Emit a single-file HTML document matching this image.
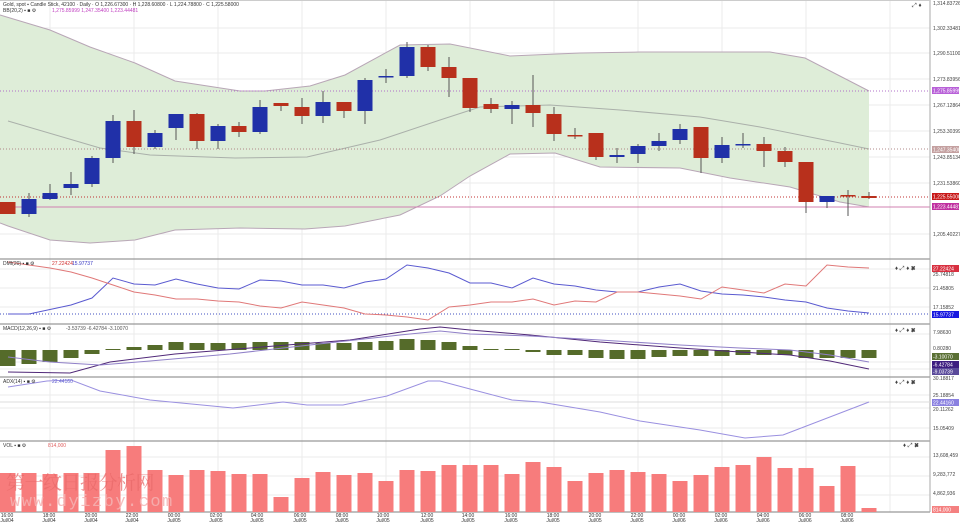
<!DOCTYPE html>
<html><head><meta charset="utf-8"><style>
html,body{margin:0;padding:0;background:#fff;width:960px;height:522px;overflow:hidden}
svg{display:block;font-family:"Liberation Sans","Noto Sans CJK SC",sans-serif}
</style></head><body>
<svg width="960" height="522" viewBox="0 0 960 522" xmlns="http://www.w3.org/2000/svg">
<!-- grid -->
<g stroke="#ebebeb" stroke-width="1">
<line x1="50" y1="0" x2="50" y2="512"/><line x1="134" y1="0" x2="134" y2="512"/><line x1="218" y1="0" x2="218" y2="512"/><line x1="302" y1="0" x2="302" y2="512"/><line x1="386" y1="0" x2="386" y2="512"/><line x1="470" y1="0" x2="470" y2="512"/><line x1="554" y1="0" x2="554" y2="512"/><line x1="638" y1="0" x2="638" y2="512"/><line x1="722" y1="0" x2="722" y2="512"/><line x1="806" y1="0" x2="806" y2="512"/><line x1="890" y1="0" x2="890" y2="512"/>
<line x1="0" y1="28" x2="930" y2="28"/><line x1="0" y1="53" x2="930" y2="53"/><line x1="0" y1="79" x2="930" y2="79"/><line x1="0" y1="105" x2="930" y2="105"/><line x1="0" y1="131" x2="930" y2="131"/><line x1="0" y1="157" x2="930" y2="157"/><line x1="0" y1="183" x2="930" y2="183"/><line x1="0" y1="234" x2="930" y2="234"/>
<line x1="0" y1="269" x2="930" y2="269"/><line x1="0" y1="288" x2="930" y2="288"/><line x1="0" y1="307" x2="930" y2="307"/>
<line x1="0" y1="334" x2="930" y2="334"/><line x1="0" y1="362" x2="930" y2="362"/><line x1="0" y1="369" x2="930" y2="369"/>
<line x1="0" y1="395" x2="930" y2="395"/><line x1="0" y1="408" x2="930" y2="408"/><line x1="0" y1="428" x2="930" y2="428"/>
<line x1="0" y1="457" x2="930" y2="457"/><line x1="0" y1="476" x2="930" y2="476"/><line x1="0" y1="495" x2="930" y2="495"/>
</g>
<!-- bollinger -->
<polygon fill="#deedd8" points="0,15 50,30 90,47 135,63 175,81 240,91 265,91 310,86 345,75 400,45 450,44 510,56 580,53 640,52 700,52 770,52 805,58 869,91 869,207 840,202 790,187 730,178 680,168 600,167 555,153 510,154 470,176 440,196 400,215 345,226 305,229 240,228 175,230 135,240 90,243 50,240 8,226 0,223"/>
<polyline fill="none" stroke="#b8a6b6" stroke-width="1" points="0,15 50,30 90,47 135,63 175,81 240,91 265,91 310,86 345,75 400,45 450,44 510,56 580,53 640,52 700,52 770,52 805,58 869,91"/>
<polyline fill="none" stroke="#b8a6b6" stroke-width="1" points="0,223 8,226 50,240 90,243 135,240 175,230 240,228 305,229 345,226 400,215 440,196 470,176 510,154 555,153 600,167 680,168 730,178 790,187 840,202 869,207"/>
<polyline fill="none" stroke="#aab0aa" stroke-width="1" points="8,121 100,148 150,155 235,158 307,157 380,140 440,120 480,107 550,105 620,110 700,117 760,127 840,143 869,149"/>
<line x1="0" y1="91" x2="930" y2="91" stroke="#b070c8" stroke-dasharray="1,2"/>
<line x1="0" y1="149" x2="930" y2="149" stroke="#b08888" stroke-dasharray="1,2"/>
<line x1="0" y1="197" x2="930" y2="197" stroke="#c03030" stroke-dasharray="1,2"/>
<line x1="0" y1="207" x2="930" y2="207" stroke="#d080b0" stroke-width="1"/>
<!-- candles -->
<g stroke-width="1">
<g stroke="#555"><line x1="29" y1="193" x2="29" y2="217"/><line x1="50" y1="184" x2="50" y2="200"/><line x1="71" y1="172" x2="71" y2="195"/><line x1="92" y1="156" x2="92" y2="187"/><line x1="113" y1="115" x2="113" y2="163"/><line x1="134" y1="110" x2="134" y2="154"/><line x1="155" y1="130" x2="155" y2="149"/><line x1="176" y1="114" x2="176" y2="140"/><line x1="197" y1="113" x2="197" y2="149"/><line x1="218" y1="124" x2="218" y2="149"/><line x1="239" y1="122" x2="239" y2="137"/><line x1="260" y1="100" x2="260" y2="134"/><line x1="281" y1="103" x2="281" y2="111"/><line x1="302" y1="98" x2="302" y2="124"/><line x1="323" y1="91" x2="323" y2="123"/><line x1="344" y1="102" x2="344" y2="118"/><line x1="365" y1="78" x2="365" y2="124"/><line x1="386" y1="69" x2="386" y2="83"/><line x1="407" y1="42" x2="407" y2="78"/><line x1="428" y1="45" x2="428" y2="71"/><line x1="449" y1="57" x2="449" y2="97"/><line x1="470" y1="78" x2="470" y2="112"/><line x1="491" y1="98" x2="491" y2="113"/><line x1="512" y1="101" x2="512" y2="124"/><line x1="533" y1="75" x2="533" y2="127"/><line x1="554" y1="107" x2="554" y2="141"/><line x1="575" y1="128" x2="575" y2="139"/><line x1="596" y1="133" x2="596" y2="160"/><line x1="617" y1="148" x2="617" y2="163"/><line x1="638" y1="144" x2="638" y2="163"/><line x1="659" y1="133" x2="659" y2="151"/><line x1="680" y1="124" x2="680" y2="144"/><line x1="701" y1="127" x2="701" y2="173"/><line x1="722" y1="137" x2="722" y2="163"/><line x1="743" y1="133" x2="743" y2="148"/><line x1="764" y1="137" x2="764" y2="167"/><line x1="785" y1="147" x2="785" y2="167"/><line x1="806" y1="162" x2="806" y2="213"/><line x1="827" y1="196" x2="827" y2="208"/><line x1="848" y1="190" x2="848" y2="216"/><line x1="869" y1="192" x2="869" y2="199"/></g>
<g fill="#b8301c">
<rect x="0" y="202" width="15.5" height="12"/><rect x="126.5" y="121" width="15" height="26"/><rect x="189.5" y="114" width="15" height="27"/><rect x="231.5" y="126" width="15" height="6"/><rect x="273.5" y="103" width="15" height="3"/><rect x="294.5" y="107" width="15" height="9"/><rect x="336.5" y="102" width="15" height="9"/><rect x="420.5" y="47" width="15" height="20"/><rect x="441.5" y="67" width="15" height="11"/><rect x="462.5" y="78" width="15" height="30"/><rect x="483.5" y="104" width="15" height="5"/><rect x="525.5" y="105" width="15" height="8"/><rect x="546.5" y="114" width="15" height="20"/><rect x="567.5" y="135" width="15" height="1.5"/><rect x="588.5" y="133" width="15" height="24"/><rect x="693.5" y="127" width="15" height="31"/><rect x="756.5" y="144" width="15" height="7"/><rect x="777.5" y="151" width="15" height="11"/><rect x="798.5" y="162" width="15" height="40"/><rect x="840.5" y="195" width="15" height="1.5"/><rect x="861.5" y="196" width="15" height="2"/>
</g>
<g fill="#2030a8">
<rect x="21.5" y="199" width="15" height="15"/><rect x="42.5" y="193" width="15" height="6"/><rect x="63.5" y="184" width="15" height="4"/><rect x="84.5" y="158" width="15" height="26"/><rect x="105.5" y="121" width="15" height="37"/><rect x="147.5" y="133" width="15" height="14"/><rect x="168.5" y="114" width="15" height="14"/><rect x="210.5" y="126" width="15" height="15"/><rect x="252.5" y="107" width="15" height="25"/><rect x="315.5" y="102" width="15" height="14"/><rect x="357.5" y="80" width="15" height="31"/><rect x="378.5" y="76" width="15" height="1.5"/><rect x="399.5" y="47" width="15" height="29"/><rect x="504.5" y="105" width="15" height="4"/><rect x="609.5" y="155" width="15" height="2"/><rect x="630.5" y="146" width="15" height="8"/><rect x="651.5" y="141" width="15" height="5"/><rect x="672.5" y="129" width="15" height="11"/><rect x="714.5" y="145" width="15" height="13"/><rect x="735.5" y="144" width="15" height="1.5"/><rect x="819.5" y="196" width="15" height="6"/>
</g></g>
<!-- panel separators -->
<g stroke="#999" stroke-width="1.2"><line x1="0" y1="259" x2="930" y2="259"/><line x1="0" y1="324" x2="930" y2="324"/><line x1="0" y1="377" x2="930" y2="377"/><line x1="0" y1="441" x2="930" y2="441"/><line x1="0" y1="512" x2="930" y2="512"/></g>
<line x1="930" y1="0" x2="930" y2="512" stroke="#aaa"/>
<line x1="0" y1="0.5" x2="930" y2="0.5" stroke="#ccc"/>
<!-- DMI -->
<line x1="0" y1="314" x2="930" y2="314" stroke="#4050c0" stroke-dasharray="1,2"/>
<polyline fill="none" stroke="#5a5ad0" stroke-width="1" points="8,314 29,314 71,305 92,298 113,278 134,284 155,285 176,279 197,284 218,288 239,289 260,280 281,281 302,285 323,285 344,288 365,282 386,279 407,265 428,268 449,273 470,283 491,283 512,288 533,278 554,284 575,286 596,290 617,292 638,292 659,287 680,284 701,291 722,294 743,295 764,297 785,300 806,302 827,308 848,311 869,313"/>
<polyline fill="none" stroke="#e07878" stroke-width="1" points="8,262 29,265 50,268 71,272 92,278 113,285 134,292 155,295 176,299 197,299 218,301 239,302 260,306 281,308 302,302 323,305 344,308 365,314 386,315 407,317 428,320 449,307 470,305 491,302 512,302 533,299 554,305 575,301 596,302 617,292 638,292 659,294 680,296 701,299 722,287 743,290 764,293 785,284 806,286 827,265 848,267 869,268"/>
<!-- MACD -->
<g fill="#556b2a">
<rect x="0" y="350" width="15.5" height="16"/><rect x="21.5" y="350" width="15" height="14"/><rect x="42.5" y="350" width="15" height="12"/><rect x="63.5" y="350" width="15" height="8"/><rect x="84.5" y="350" width="15" height="4"/><rect x="105.5" y="349" width="15" height="1"/><rect x="126.5" y="347" width="15" height="3"/><rect x="147.5" y="345" width="15" height="5"/><rect x="168.5" y="342" width="15" height="8"/><rect x="189.5" y="343" width="15" height="7"/><rect x="210.5" y="343" width="15" height="7"/><rect x="231.5" y="343" width="15" height="7"/><rect x="252.5" y="342" width="15" height="8"/><rect x="273.5" y="342" width="15" height="8"/><rect x="294.5" y="342" width="15" height="8"/><rect x="315.5" y="343" width="15" height="7"/><rect x="336.5" y="343" width="15" height="7"/><rect x="357.5" y="342" width="15" height="8"/><rect x="378.5" y="341" width="15" height="9"/><rect x="399.5" y="339" width="15" height="11"/><rect x="420.5" y="340" width="15" height="10"/><rect x="441.5" y="342" width="15" height="8"/><rect x="462.5" y="346" width="15" height="4"/><rect x="483.5" y="349" width="15" height="1"/><rect x="504.5" y="349" width="15" height="1"/><rect x="525.5" y="350" width="15" height="2"/><rect x="546.5" y="350" width="15" height="5"/><rect x="567.5" y="350" width="15" height="5"/><rect x="588.5" y="350" width="15" height="8"/><rect x="609.5" y="350" width="15" height="9"/><rect x="630.5" y="350" width="15" height="9"/><rect x="651.5" y="350" width="15" height="7"/><rect x="672.5" y="350" width="15" height="6"/><rect x="693.5" y="350" width="15" height="6"/><rect x="714.5" y="350" width="15" height="6"/><rect x="735.5" y="350" width="15" height="5"/><rect x="756.5" y="350" width="15" height="5"/><rect x="777.5" y="350" width="15" height="5"/><rect x="798.5" y="350" width="15" height="8"/><rect x="819.5" y="350" width="15" height="8"/><rect x="840.5" y="350" width="15" height="8"/><rect x="861.5" y="350" width="15" height="8"/>
</g>
<polyline fill="none" stroke="#502878" stroke-width="1" points="8,372 70,373 110,362 175,354 250,348 350,340 420,329 440,327 470,330 530,335 600,342 680,348 740,352 790,355 830,361 869,369"/>
<polyline fill="none" stroke="#9080c8" stroke-width="1" points="8,357 50,362 100,365 150,361 230,354 310,345 400,335 440,331 470,334 530,336 600,340 680,345 740,348 790,350 830,355 869,362"/>
<!-- ADX -->
<line x1="0" y1="402" x2="930" y2="402" stroke="#dcdcdc"/>
<polyline fill="none" stroke="#9a90e0" stroke-width="1" points="8,387 47,381 71,380 100,391 150,400 233,408 283,402 307,405 343,405 367,400 387,396 428,381 440,381 470,389 512,400 540,402 600,412 640,421 700,430 745,438 783,435 869,402"/>
<!-- Volume -->
<g fill="#f77c7c">
<rect x="0" y="473" width="15.5" height="39"/><rect x="21.5" y="473" width="15" height="39"/><rect x="42.5" y="474" width="15" height="38"/><rect x="63.5" y="473" width="15" height="39"/><rect x="84.5" y="473" width="15" height="39"/><rect x="105.5" y="450" width="15" height="62"/><rect x="126.5" y="446" width="15" height="66"/><rect x="147.5" y="470" width="15" height="42"/><rect x="168.5" y="475" width="15" height="37"/><rect x="189.5" y="470" width="15" height="42"/><rect x="210.5" y="471" width="15" height="41"/><rect x="231.5" y="474" width="15" height="38"/><rect x="252.5" y="474" width="15" height="38"/><rect x="273.5" y="497" width="15" height="15"/><rect x="294.5" y="478" width="15" height="34"/><rect x="315.5" y="472" width="15" height="40"/><rect x="336.5" y="475" width="15" height="37"/><rect x="357.5" y="473" width="15" height="39"/><rect x="378.5" y="481" width="15" height="31"/><rect x="399.5" y="470" width="15" height="42"/><rect x="420.5" y="471" width="15" height="41"/><rect x="441.5" y="465" width="15" height="47"/><rect x="462.5" y="465" width="15" height="47"/><rect x="483.5" y="465" width="15" height="47"/><rect x="504.5" y="474" width="15" height="38"/><rect x="525.5" y="462" width="15" height="50"/><rect x="546.5" y="467" width="15" height="45"/><rect x="567.5" y="481" width="15" height="31"/><rect x="588.5" y="473" width="15" height="39"/><rect x="609.5" y="470" width="15" height="42"/><rect x="630.5" y="472" width="15" height="40"/><rect x="651.5" y="474" width="15" height="38"/><rect x="672.5" y="481" width="15" height="31"/><rect x="693.5" y="475" width="15" height="37"/><rect x="714.5" y="467" width="15" height="45"/><rect x="735.5" y="465" width="15" height="47"/><rect x="756.5" y="457" width="15" height="55"/><rect x="777.5" y="468" width="15" height="44"/><rect x="798.5" y="468" width="15" height="44"/><rect x="819.5" y="486" width="15" height="26"/><rect x="840.5" y="466" width="15" height="46"/><rect x="861.5" y="508" width="15" height="4"/>
</g>
<!-- watermark -->
<text x="6" y="489" font-size="19" fill="#e86a6a" fill-opacity="0.75" letter-spacing="-0.5" font-family="'Noto Serif CJK SC','Noto Sans CJK SC',serif">第一纹日报分析网</text>
<text x="10" y="506" font-size="17" fill="#f4b4b4" fill-opacity="0.85" letter-spacing="1.5" font-family="'Liberation Mono',monospace">www.dyizby.com</text>
<!-- panel titles -->
<g font-size="5" fill="#333">
<text x="3" y="6">Gold, spot  ▪  Candle Stick, 42100 · Daily · O 1,226.67300 · H 1,228.60800 · L 1,224.78800 · C 1,225.58000</text>
<text x="3" y="12">BB(20,2)  ▪  ■  ⚙</text><text x="52" y="12" fill="#c040c0">1,275.85999 1,247.35400 1,223.44481</text>
<text x="3" y="265">DMI(20)  ▪  ■  ⚙</text><text x="52" y="265" fill="#d03030">27.22424</text><text x="72" y="265" fill="#3030c0">15.97737</text>
<text x="3" y="330">MACD(12,26,9)  ▪  ■  ⚙</text><text x="66" y="330" fill="#555">-3.53739  -6.42784  -3.10070</text>
<text x="3" y="383">ADX(14)  ▪  ■  ⚙</text><text x="52" y="383" fill="#6060d0">22.44160</text>
<text x="3" y="447">VOL  ▪  ■  ⚙</text><text x="48" y="447" fill="#e06060">814,000</text>
</g>
<!-- right axis -->
<g font-size="5" fill="#444">
<text x="933" y="5">1,314.83726</text><text x="933" y="30">1,302.33481</text><text x="933" y="55">1,290.51100</text><text x="933" y="81">1,273.83956</text><text x="933" y="107">1,267.12864</text><text x="933" y="133">1,253.30399</text><text x="933" y="159">1,243.85134</text><text x="933" y="185">1,231.53860</text><text x="933" y="236">1,205.40227</text>
<text x="933" y="276">25.74818</text><text x="933" y="290">21.45805</text><text x="933" y="309">17.15852</text>
<text x="933" y="334">7.98630</text><text x="933" y="350">0.80280</text>
<text x="933" y="380">30.18817</text><text x="933" y="397">25.18854</text><text x="933" y="411">20.11262</text><text x="933" y="430">15.05409</text>
<text x="933" y="457">13,608,459</text><text x="933" y="476">9,283,772</text><text x="933" y="495">4,862,936</text>
</g>
<g font-size="5" fill="#fff">
<rect x="932" y="87" width="27" height="7" fill="#b860d8"/><text x="933" y="92.5">1,275.85999</text>
<rect x="932" y="146" width="27" height="7" fill="#c4a0a0"/><text x="933" y="151.5">1,247.35400</text>
<rect x="932" y="193" width="27" height="7" fill="#c81818"/><text x="933" y="198.5">1,225.55000</text>
<rect x="932" y="203" width="27" height="7" fill="#c030a0"/><text x="933" y="208.5">1,223.44481</text>
<rect x="932" y="265" width="27" height="7" fill="#d83040"/><text x="933" y="270.5">27.22424</text>
<rect x="932" y="311" width="27" height="7" fill="#1818e0"/><text x="933" y="316.5">15.97737</text>
<rect x="932" y="353" width="27" height="7" fill="#5a7034"/><text x="933" y="358.5">-3.10070</text>
<rect x="932" y="361" width="27" height="7" fill="#3c1c80"/><text x="933" y="366.5">-6.42784</text>
<rect x="932" y="368" width="27" height="7" fill="#5a4a9a"/><text x="933" y="373.5">-9.03739</text>
<rect x="932" y="399" width="27" height="7" fill="#8a80e0"/><text x="933" y="404.5">22.44160</text>
<rect x="932" y="506" width="27" height="7" fill="#f48080"/><text x="933" y="511.5">814,000</text>
</g>
<!-- x axis -->
<g font-size="5" fill="#333" text-anchor="middle">
<text x="7" y="517">16:00</text><text x="7" y="522">Jul/04</text><text x="49" y="517">18:00</text><text x="49" y="522">Jul/04</text><text x="91" y="517">20:00</text><text x="91" y="522">Jul/04</text><text x="132" y="517">22:00</text><text x="132" y="522">Jul/04</text><text x="174" y="517">00:00</text><text x="174" y="522">Jul/05</text><text x="216" y="517">02:00</text><text x="216" y="522">Jul/05</text><text x="257" y="517">04:00</text><text x="257" y="522">Jul/05</text><text x="300" y="517">06:00</text><text x="300" y="522">Jul/05</text><text x="342" y="517">08:00</text><text x="342" y="522">Jul/05</text><text x="383" y="517">10:00</text><text x="383" y="522">Jul/05</text><text x="427" y="517">12:00</text><text x="427" y="522">Jul/05</text><text x="468" y="517">14:00</text><text x="468" y="522">Jul/05</text><text x="511" y="517">16:00</text><text x="511" y="522">Jul/05</text><text x="553" y="517">18:00</text><text x="553" y="522">Jul/05</text><text x="595" y="517">20:00</text><text x="595" y="522">Jul/05</text><text x="637" y="517">22:00</text><text x="637" y="522">Jul/05</text><text x="679" y="517">00:00</text><text x="679" y="522">Jul/06</text><text x="721" y="517">02:00</text><text x="721" y="522">Jul/06</text><text x="763" y="517">04:00</text><text x="763" y="522">Jul/06</text><text x="805" y="517">06:00</text><text x="805" y="522">Jul/06</text><text x="847" y="517">08:00</text><text x="847" y="522">Jul/06</text>
</g>
<!-- toolbar icons -->
<g font-size="6" fill="#444"><text x="912" y="7">⤢ ♦</text><text x="895" y="270">♦ ⤢ ♦ ✖</text><text x="895" y="332">♦ ⤢ ♦ ✖</text><text x="895" y="384">♦ ⤢ ♦ ✖</text><text x="903" y="447">♦ ⤢ ✖</text></g>
</svg>
</body></html>
